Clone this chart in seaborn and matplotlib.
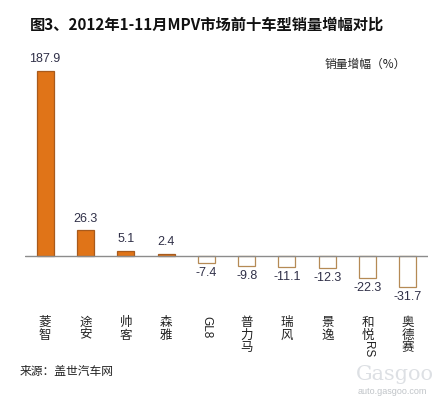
import matplotlib
matplotlib.use("Agg")
import matplotlib.pyplot as plt
import matplotlib.transforms as mtransforms
import seaborn as sns
import pandas as pd

# data
models = ['菱智', '途安', '帅客', '森雅', 'GL8', '普力马', '瑞风', '景逸', '和悦RS', '奥德赛']
growth = [187.9, 26.3, 5.1, 2.4, -7.4, -9.8, -11.1, -12.3, -22.3, -31.7]
title = '图3、2012年1-11月MPV市场前十车型销量增幅对比'
series_name = '销量增幅（%）'
source = '来源：盖世汽车网'

sns.set_theme(style="white")
plt.rcParams['font.family'] = ['Noto Sans CJK SC', 'DejaVu Sans']

W, H = 440, 399
fig = plt.figure(figsize=(W / 100, H / 100), dpi=100)
fig.patch.set_facecolor('white')

# axes spans px x 25..428, y 60..300
ax = fig.add_axes([25 / W, (H - 300) / H, 403 / W, 240 / H])
ax.set_facecolor('white')

df = pd.DataFrame({'model': models, 'growth': growth})
sns.barplot(data=df, x='model', y='growth', order=models, width=0.42,
            color='#E07418', saturation=1, ax=ax)

for p, v in zip(ax.patches, growth):
    if v >= 0:
        p.set_facecolor('#E07418')
        p.set_edgecolor('#A85A1C')
    else:
        p.set_facecolor('white')
        p.set_edgecolor('#B58A55')
    p.set_linewidth(0.9)

ax.set_ylim(-44.7, 199)
ax.set_xlim(-0.5, len(models) - 0.5)
ax.axhline(0, color='#8C8C8C', lw=1.0, zorder=5)
for s in ax.spines.values():
    s.set_visible(False)
ax.set_xticks([])
ax.set_yticks([])
ax.set_xlabel('')
ax.set_ylabel('')

# value labels
off = mtransforms.offset_copy
for i, v in enumerate(growth):
    if v >= 0:
        tr = off(ax.transData, fig=fig, x=0, y=4, units='points')
        ax.text(i, v, f'{v:.1f}', ha='center', va='bottom', fontsize=9,
                family='Liberation Sans', color='#303048', transform=tr)
    else:
        tr = off(ax.transData, fig=fig, x=0, y=-3, units='points')
        ax.text(i, v, f'{v:.1f}', ha='center', va='top', fontsize=9,
                family='Liberation Sans', color='#303048', transform=tr)

# vertical category labels: CJK stacked, latin runs rotated
blend = mtransforms.blended_transform_factory(ax.transData, fig.transFigure)
for i, name in enumerate(models):
    y = 316
    run = ''
    parts = []
    for ch in name:
        if ord(ch) < 128:
            run += ch
        else:
            if run:
                parts.append(run)
                run = ''
            parts.append(ch)
    if run:
        parts.append(run)
    for part in parts:
        if ord(part[0]) < 128:
            ax.text(i, (H - y) / H, part, rotation=-90, ha='center', va='top',
                    fontsize=8.5, family='Liberation Sans', color='#222222',
                    transform=blend)
            y += len(part) * 7 + 2
        else:
            ax.text(i, (H - y) / H, part, ha='center', va='top', fontsize=9,
                    color='#222222', transform=blend)
            y += 12.5

fig.text(30 / W, (H - 25) / H, title, ha='left', va='center', fontsize=11,
         fontweight='bold', color='#111111')
fig.text(325 / W, (H - 64) / H, series_name, ha='left', va='center',
         fontsize=8.5, color='#222222')
fig.text(20 / W, (H - 372) / H, source, ha='left', va='center', fontsize=8.5,
         color='#222222')

# watermark
fig.text(395 / W, (H - 375) / H, 'Gasgoo', ha='center', va='center',
         fontsize=15, family='DejaVu Serif', color='#DDE0E4')
fig.text(392 / W, (H - 392) / H, 'auto.gasgoo.com', ha='center', va='center',
         fontsize=6.5, family='Liberation Sans', color='#C0C4C8')

fig.savefig('out.png', dpi=100, facecolor='white')
